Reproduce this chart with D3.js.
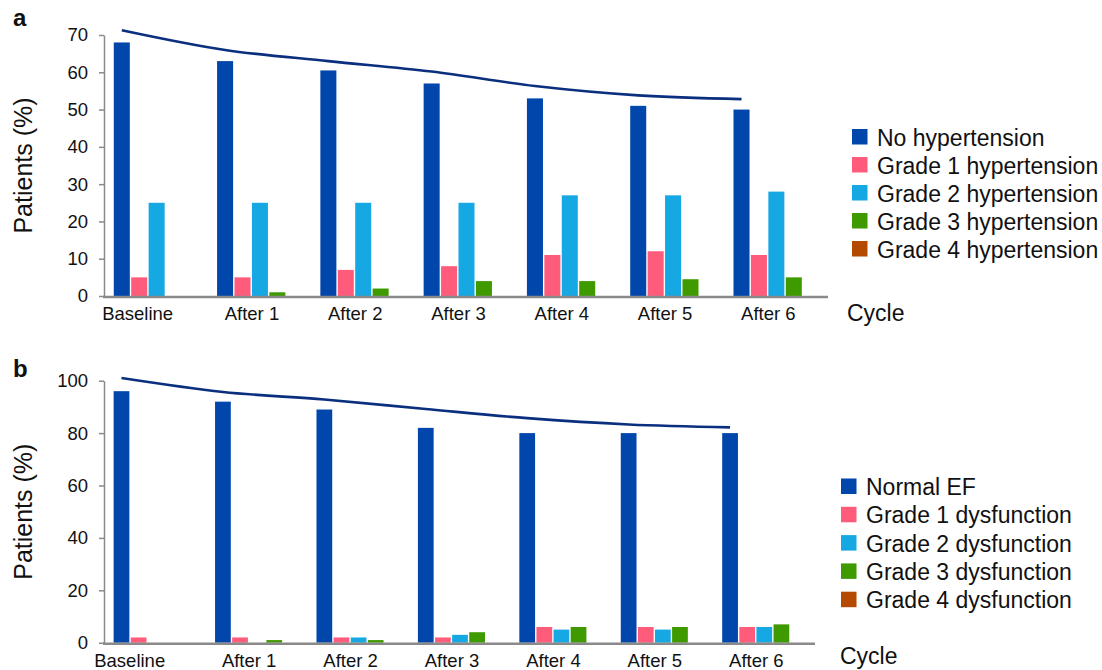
<!DOCTYPE html>
<html>
<head>
<meta charset="utf-8">
<script src="https://cdn.jsdelivr.net/npm/d3@7"></script>
<style>
  body { margin: 0; background: #fff; }
  svg text { font-family: "Liberation Sans", Arial, sans-serif; fill: #111; }
</style>
</head>
<body>
<svg width="1102" height="670"></svg>
<script>
  // categories
  const cycles = ["Baseline", "After 1", "After 2", "After 3", "After 4", "After 5", "After 6"];

  // panel a: hypertension
  const htnNames = ["No hypertension", "Grade 1 hypertension", "Grade 2 hypertension", "Grade 3 hypertension", "Grade 4 hypertension"];
  const htnNone = [68, 63, 60.5, 57, 53, 51, 50];
  const htnG1 = [5, 5, 7, 8, 11, 12, 11];
  const htnG2 = [25, 25, 25, 25, 27, 27, 28];
  const htnG3 = [0, 1, 2, 4, 4, 4.5, 5];
  const htnG4 = [0, 0, 0, 0, 0, 0, 0];
  const htnTrend = [71.3, 66, 63, 60.2, 56.3, 53.8, 52.8];
  const htnTicks = [0, 10, 20, 30, 40, 50, 60, 70];

  // panel b: ejection fraction
  const efNames = ["Normal EF", "Grade 1 dysfunction", "Grade 2 dysfunction", "Grade 3 dysfunction", "Grade 4 dysfunction"];
  const efNormal = [96, 92, 89, 82, 80, 80, 80];
  const efG1 = [2, 2, 2, 2, 6, 6, 6];
  const efG2 = [0, 0, 2, 3, 5, 5, 6];
  const efG3 = [0, 1, 1, 4, 6, 6, 7];
  const efG4 = [0, 0, 0, 0, 0, 0, 0];
  const efTrend = [101, 95.7, 92.8, 89.2, 85.7, 83.3, 82.2];
  const efTicks = [0, 20, 40, 60, 80, 100];

  const colors = ["#0046ab", "#ff5c7c", "#16a8e2", "#3f9a00", "#b44900"];

  const svg = d3.select("svg");

  const drawPanel = (opts) => {
    const { letter, letterY, series, names, trend, ticks, x0, x1, yBottom, yTop,
            legendX, legendY, legendStep, cycleX, cycleY, firstShift } = opts;
    const g = svg.append("g");

    const x = d3.scaleBand().domain(cycles).range([x0, x1])
      .paddingInner(0.17).paddingOuter(0.085);
    const xs = d3.scaleBand().domain(d3.range(names.length))
      .range([0, x.bandwidth()]).paddingInner(0.08);
    const y = d3.scaleLinear().domain([0, d3.max(ticks)]).range([yBottom, yTop]);

    // bars
    series.forEach((vals, si) => {
      g.append("g").selectAll("rect")
        .data(vals.map((v, i) => ({ c: cycles[i], v })).filter(d => d.v > 0))
        .join("rect")
        .attr("x", d => x(d.c) + xs(si))
        .attr("y", d => y(d.v))
        .attr("width", xs.bandwidth())
        .attr("height", d => yBottom - y(d.v))
        .attr("fill", colors[si]);
    });

    // trend line over the first series
    const line = d3.line()
      .x((d, i) => x(cycles[i]) + xs(0) + xs.bandwidth() / 2)
      .y(d => y(d))
      .curve(d3.curveMonotoneX);
    g.append("path").datum(trend)
      .attr("d", line)
      .attr("fill", "none")
      .attr("stroke", "#0a2f7e")
      .attr("stroke-width", 2.6);

    // y axis
    const ya = g.append("g").attr("transform", `translate(${x0 - 1},0)`)
      .call(d3.axisLeft(y).tickValues(ticks).tickSize(5).tickPadding(11).tickSizeOuter(0));
    ya.select(".domain").attr("stroke", "#8a8a8a").attr("stroke-width", 1.5);
    ya.selectAll(".tick line").attr("stroke", "#8a8a8a").attr("stroke-width", 1.5);
    ya.selectAll(".tick text").style("font-size", "18.5px")
      .style("font-family", "'Liberation Sans', Arial, sans-serif").attr("fill", "#111");

    // x axis
    const xa = g.append("g").attr("transform", `translate(0,${yBottom + 1})`)
      .call(d3.axisBottom(x).tickSize(0).tickPadding(10).tickSizeOuter(0));
    xa.select(".domain").attr("stroke", "#8a8a8a").attr("stroke-width", 2.5)
      .attr("d", `M${x0 - 2},0H${x1}`);
    xa.selectAll(".tick text").style("font-size", "18.5px")
      .style("font-family", "'Liberation Sans', Arial, sans-serif").attr("fill", "#111")
      .attr("dy", "0.71em")
      .attr("dx", (d, i) => i === 0 ? -8 + firstShift : -8);

    // y title
    g.append("text")
      .attr("transform", `translate(32,${(yBottom + yTop) / 2}) rotate(-90)`)
      .attr("text-anchor", "middle")
      .style("font-size", "25px")
      .text("Patients (%)");

    // panel letter
    g.append("text").attr("x", 13).attr("y", letterY)
      .style("font-size", "24px").style("font-weight", "bold")
      .text(letter);

    // x title
    g.append("text").attr("x", cycleX).attr("y", cycleY)
      .style("font-size", "23px").text("Cycle");

    // legend
    const lg = g.append("g").selectAll("g").data(names).join("g")
      .attr("transform", (d, i) => `translate(${legendX},${legendY + i * legendStep})`);
    lg.append("rect").attr("width", 15.5).attr("height", 15.5)
      .attr("fill", (d, i) => colors[i]);
    lg.append("text").attr("x", 25).attr("y", 16.5)
      .style("font-size", "23px").text(d => d);
  };

  drawPanel({
    letter: "a", letterY: 26,
    series: [htnNone, htnG1, htnG2, htnG3, htnG4], names: htnNames,
    trend: htnTrend, ticks: htnTicks,
    x0: 105, x1: 828, yBottom: 296, yTop: 35,
    legendX: 852, legendY: 129, legendStep: 28,
    cycleX: 847, cycleY: 321, firstShift: -11
  });

  drawPanel({
    letter: "b", letterY: 377,
    series: [efNormal, efG1, efG2, efG3, efG4], names: efNames,
    trend: efTrend, ticks: efTicks,
    x0: 105, x1: 815, yBottom: 642.7, yTop: 380.7,
    legendX: 841, legendY: 478.5, legendStep: 28.3,
    cycleX: 840, cycleY: 664, firstShift: -18
  });
</script>
</body>
</html>
